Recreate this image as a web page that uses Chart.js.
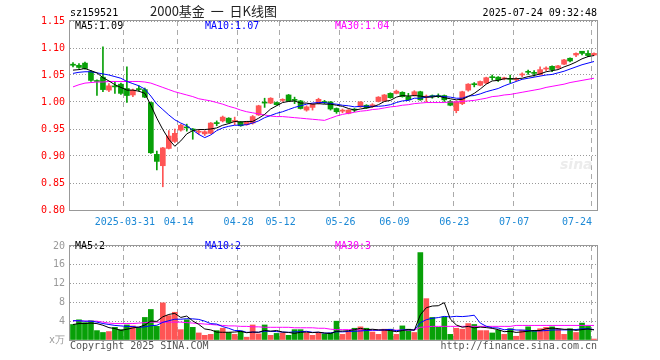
<!DOCTYPE html>
<html>
<head>
<meta charset="utf-8">
<script src="https://cdn.jsdelivr.net/npm/chart.js@4.4.1/dist/chart.umd.min.js"></script>
<style>
  body { margin: 0; background: #fff; }
  #wrap { position: relative; width: 660px; height: 360px; overflow: hidden; }
  canvas { position: absolute; left: 0; }
  .t { position: absolute; white-space: pre; font: 10px "DejaVu Sans Mono", monospace; line-height: 10px; color: #000; }
</style>
</head>
<body>
<div id="wrap">
  <canvas id="kline" width="660" height="235" style="top:0"></canvas>
  <canvas id="vol" width="660" height="125" style="top:235px"></canvas>

  <div class="t" style="left:70px;top:8px">sz159521</div>
  <div class="t" style="left:150px;top:4px;font:13px 'Noto Sans CJK SC',sans-serif;line-height:13px;color:#222">2000基金  一  日K线图</div>
  <div class="t" style="right:63px;top:8px">2025-07-24 09:32:48</div>

  <div class="t" style="left:75px;top:21px">MA5:1.09</div>
  <div class="t" style="left:205px;top:21px;color:#0000ff">MA10:1.07</div>
  <div class="t" style="left:335px;top:21px;color:#ff00ff">MA30:1.04</div>

  <div class="t" style="left:560px;top:156px;font:italic bold 14px 'DejaVu Sans',sans-serif;color:#ececec">sina</div>

  <div class="t" style="left:75px;top:241px">MA5:2</div>
  <div class="t" style="left:205px;top:241px;color:#0000ff">MA10:2</div>
  <div class="t" style="left:335px;top:241px;color:#ff00ff">MA30:3</div>

  <div class="t" style="left:70px;top:341px;color:#555">Copyright 2025 SINA.COM</div>
  <div class="t" style="right:63px;top:341px;color:#555">http://finance.sina.com.cn</div>
</div>

<script>
// trading days shown
const dates = [
  '2025-03-18','2025-03-19','2025-03-20','2025-03-21','2025-03-24','2025-03-25','2025-03-26','2025-03-27','2025-03-28','2025-03-31',
  '2025-04-01','2025-04-02','2025-04-03','2025-04-07','2025-04-08','2025-04-09','2025-04-10','2025-04-11','2025-04-14','2025-04-15',
  '2025-04-16','2025-04-17','2025-04-18','2025-04-21','2025-04-22','2025-04-23','2025-04-24','2025-04-25','2025-04-28','2025-04-29',
  '2025-04-30','2025-05-06','2025-05-07','2025-05-08','2025-05-09','2025-05-12','2025-05-13','2025-05-14','2025-05-15','2025-05-16',
  '2025-05-19','2025-05-20','2025-05-21','2025-05-22','2025-05-23','2025-05-26','2025-05-27','2025-05-28','2025-05-29','2025-05-30',
  '2025-06-03','2025-06-04','2025-06-05','2025-06-06','2025-06-09','2025-06-10','2025-06-11','2025-06-12','2025-06-13','2025-06-16',
  '2025-06-17','2025-06-18','2025-06-19','2025-06-20','2025-06-23','2025-06-24','2025-06-25','2025-06-26','2025-06-27','2025-06-30',
  '2025-07-01','2025-07-02','2025-07-03','2025-07-04','2025-07-07','2025-07-08','2025-07-09','2025-07-10','2025-07-11','2025-07-14',
  '2025-07-15','2025-07-16','2025-07-17','2025-07-18','2025-07-21','2025-07-22','2025-07-23','2025-07-24'
];

// x axis labels
const tickDates = ['2025-03-31','2025-04-14','2025-04-28','2025-05-12','2025-05-26','2025-06-09','2025-06-23','2025-07-07','2025-07-24'];
const tickText  = ['2025-03-31','04-14','04-28','05-12','05-26','06-09','06-23','07-07','07-24     '];

// prices
const openP = [
  1.070,1.068,1.072,1.056,1.039,1.046,1.022,1.029,1.033,1.025,
  1.013,1.024,1.023,0.999,0.903,0.882,0.914,0.927,0.948,0.953,
  0.950,0.944,0.941,0.942,0.961,0.965,0.970,0.964,0.963,0.958,
  0.961,0.976,0.999,0.998,0.999,1.003,1.013,1.004,1.002,0.985,
  0.990,0.998,1.000,1.000,0.988,0.983,0.979,0.986,0.991,0.994,
  0.993,1.001,1.002,1.016,1.016,1.018,1.010,1.013,1.019,1.009,
  1.011,1.011,1.012,1.001,0.984,0.997,1.022,1.033,1.031,1.035,
  1.046,1.046,1.043,1.043,1.041,1.050,1.056,1.054,1.051,1.061,
  1.066,1.063,1.070,1.081,1.087,1.094,1.090,1.087
];
const closeP = [
  1.068,1.064,1.062,1.040,1.038,1.023,1.030,1.028,1.016,1.012,
  1.022,1.023,1.009,0.906,0.890,0.915,0.937,0.942,0.957,0.952,
  0.948,0.945,0.945,0.961,0.960,0.972,0.962,0.965,0.956,0.963,
  0.973,0.993,0.998,1.007,0.995,1.004,1.002,1.003,0.988,0.991,
  0.996,1.005,0.999,0.987,0.982,0.985,0.985,0.985,1.000,0.989,
  0.994,1.009,1.013,1.008,1.020,1.010,1.004,1.019,1.004,1.010,
  1.010,1.010,1.004,0.994,1.000,1.019,1.033,1.032,1.038,1.045,
  1.045,1.041,1.044,1.042,1.042,1.051,1.055,1.053,1.060,1.062,
  1.060,1.067,1.078,1.076,1.090,1.090,1.086,1.090
];
const highP = [
  1.073,1.071,1.074,1.058,1.041,1.102,1.034,1.038,1.035,1.065,
  1.024,1.030,1.026,1.000,0.909,0.916,0.947,0.950,0.959,0.959,
  0.951,0.949,0.947,0.962,0.965,0.974,0.971,0.972,0.964,0.964,
  0.975,0.994,1.007,1.008,1.000,1.006,1.014,1.009,1.003,0.993,
  0.997,1.007,1.003,1.001,0.989,0.987,0.986,0.988,1.001,0.995,
  0.997,1.010,1.014,1.017,1.022,1.019,1.016,1.021,1.020,1.013,
  1.013,1.015,1.013,1.003,1.002,1.020,1.034,1.036,1.039,1.046,
  1.050,1.047,1.046,1.050,1.045,1.054,1.059,1.058,1.065,1.065,
  1.067,1.068,1.079,1.082,1.091,1.094,1.095,1.091
];
const lowP = [
  1.065,1.062,1.061,1.038,1.012,1.019,1.019,1.016,1.014,0.999,
  1.010,1.020,1.008,0.905,0.874,0.843,0.913,0.925,0.946,0.946,
  0.931,0.940,0.938,0.941,0.956,0.963,0.961,0.958,0.955,0.957,
  0.959,0.975,0.990,0.997,0.994,1.001,1.001,0.997,0.987,0.983,
  0.985,0.996,0.997,0.985,0.979,0.980,0.978,0.982,0.990,0.988,
  0.990,1.000,1.001,1.007,1.015,1.009,1.003,1.011,1.003,1.000,
  1.007,1.008,1.001,0.993,0.980,0.995,1.020,1.028,1.030,1.034,
  1.041,1.038,1.041,1.036,1.039,1.047,1.051,1.048,1.050,1.058,
  1.056,1.062,1.069,1.074,1.084,1.087,1.084,1.086
];

// price moving averages as drawn
const ma5 = [
  1.059,1.060,1.062,1.058,1.054,1.045,1.039,1.032,1.027,1.022,
  1.022,1.020,1.016,0.994,0.970,0.949,0.931,0.918,0.928,0.941,
  0.947,0.949,0.949,0.950,0.952,0.957,0.960,0.964,0.963,0.964,
  0.964,0.970,0.977,0.987,0.993,0.999,1.001,1.002,0.998,0.998,
  0.996,0.997,0.996,0.996,0.994,0.992,0.988,0.985,0.987,0.989,
  0.991,0.995,1.001,1.003,1.009,1.012,1.011,1.012,1.011,1.009,
  1.009,1.011,1.008,1.006,1.004,1.005,1.010,1.016,1.024,1.033,
  1.039,1.040,1.043,1.043,1.043,1.044,1.047,1.049,1.052,1.056,
  1.058,1.060,1.065,1.069,1.074,1.080,1.084,1.086
];
const ma10 = [
  1.053,1.055,1.056,1.056,1.054,1.052,1.050,1.047,1.044,1.038,
  1.034,1.030,1.024,1.011,0.996,0.986,0.976,0.967,0.961,0.956,
  0.948,0.940,0.934,0.939,0.947,0.952,0.955,0.957,0.957,0.958,
  0.961,0.965,0.971,0.975,0.979,0.982,0.986,0.990,0.993,0.996,
  0.998,0.999,0.999,0.997,0.996,0.994,0.993,0.991,0.992,0.992,
  0.992,0.992,0.993,0.995,0.999,1.002,1.003,1.007,1.007,1.009,
  1.011,1.011,1.010,1.009,1.007,1.007,1.011,1.012,1.015,1.019,
  1.022,1.025,1.030,1.034,1.038,1.042,1.044,1.046,1.048,1.050,
  1.051,1.054,1.057,1.061,1.065,1.069,1.072,1.075
];
const ma30 = [
  1.028,1.032,1.035,1.036,1.037,1.037,1.038,1.038,1.038,1.038,
  1.038,1.038,1.037,1.035,1.031,1.027,1.023,1.019,1.016,1.013,
  1.010,1.006,1.004,1.002,0.999,0.996,0.992,0.989,0.985,0.982,
  0.980,0.978,0.976,0.974,0.973,0.973,0.972,0.971,0.970,0.969,
  0.968,0.967,0.966,0.970,0.974,0.977,0.979,0.981,0.983,0.984,
  0.986,0.987,0.989,0.991,0.992,0.994,0.995,0.997,0.998,0.999,
  0.999,0.999,0.999,1.000,1.000,1.001,1.002,1.003,1.005,1.007,
  1.010,1.011,1.013,1.014,1.016,1.018,1.020,1.022,1.024,1.027,
  1.029,1.031,1.033,1.036,1.038,1.040,1.042,1.044
];

// volume (x万)
const volume = [
  3.3,4.3,3.7,4.1,2.0,1.6,1.8,2.7,2.2,3.2,
  3.0,2.7,4.8,6.5,2.9,7.9,5.2,5.9,2.2,4.3,
  2.7,1.5,1.0,1.2,2.0,2.5,1.6,1.2,1.9,0.6,
  3.2,1.3,3.2,1.0,1.4,1.5,1.0,2.2,2.2,1.5,
  1.0,1.5,1.3,1.5,4.0,1.2,1.9,2.5,2.8,2.5,
  1.7,1.2,2.3,2.3,1.2,3.0,2.3,1.6,18.6,8.8,
  4.8,2.7,4.9,1.2,2.5,2.3,3.5,3.3,2.0,2.0,
  1.5,2.1,1.2,2.4,0.8,2.1,2.8,2.0,2.4,2.7,
  2.8,2.3,1.2,2.4,1.6,3.6,2.9,0.2
];
const vma5 = [
  3.3,3.5,3.5,3.6,3.49,3.14,2.63,2.43,2.05,2.29,
  2.57,2.75,3.17,4.03,3.96,4.94,5.44,5.66,4.80,5.09,
  4.05,3.32,2.35,2.15,1.68,1.64,1.65,1.69,1.83,1.55,
  1.69,1.64,2.04,1.87,2.03,1.68,1.61,1.41,1.65,1.67,
  1.57,1.67,1.49,1.35,1.85,1.89,1.97,2.21,2.48,2.19,
  2.29,2.16,2.12,2.02,1.76,2.01,2.24,2.09,5.35,6.87,
  7.23,7.29,7.95,4.47,3.21,2.72,2.89,2.58,2.74,2.64,
  2.48,2.20,1.77,1.85,1.61,1.73,1.87,2.03,2.03,2.40,
  2.53,2.43,2.27,2.27,2.05,2.21,2.35,2.15
];
const vma10 = [
  4.1,4.1,4.0,4.0,3.8,3.5,3.3,3.1,3.0,2.89,
  2.86,2.69,2.80,3.04,3.13,3.76,4.10,4.42,4.42,4.53,
  4.50,4.38,4.01,3.48,3.39,2.85,2.49,2.02,1.99,1.62,
  1.67,1.65,1.87,1.85,1.79,1.69,1.63,1.73,1.76,1.85,
  1.63,1.64,1.45,1.50,1.76,1.73,1.82,1.85,1.92,2.02,
  2.09,2.07,2.17,2.25,1.98,2.15,2.20,2.11,3.69,4.32,
  4.62,4.77,5.02,4.91,5.04,4.98,5.09,5.27,3.61,2.93,
  2.60,2.55,2.18,2.30,2.13,2.11,2.04,1.90,1.94,2.01,
  2.13,2.15,2.15,2.15,2.23,2.37,2.39,2.21
];
const vma30 = [
  4.1,4.1,4.0,4.0,4.0,3.8,3.6,3.5,3.5,3.5,
  3.5,3.6,3.7,3.8,3.8,3.8,3.8,3.8,3.8,3.7,
  3.6,3.5,3.4,3.3,3.2,3.1,3.0,3.0,2.9,2.9,
  2.8,2.8,2.7,2.7,2.7,2.7,2.7,2.6,2.6,2.6,
  2.6,2.5,2.5,2.3,2.2,2.2,2.2,2.2,2.1,2.1,
  2.1,2.1,2.1,2.1,2.1,2.1,2.1,2.1,2.7,2.8,
  2.9,2.9,2.9,2.9,2.9,2.9,2.9,2.9,2.9,2.9,
  2.9,2.9,2.9,2.9,3.1,3.1,3.1,3.1,3.1,3.1,
  3.1,3.1,3.1,3.1,3.1,3.1,3.1,3.1
];

const UP = '#ff5555', DOWN = '#08a008';
const candleColor = dates.map((d, i) => closeP[i] >= openP[i] ? UP : DOWN);

Chart.defaults.font.family = '"DejaVu Sans Mono", monospace';
Chart.defaults.font.size = 10;

// grey frame round the plot area
const frame = {
  id: 'frame',
  afterDraw(chart) {
    const a = chart.chartArea, ctx = chart.ctx;
    ctx.save();
    ctx.strokeStyle = '#999';
    ctx.lineWidth = 1;
    ctx.strokeRect(Math.round(a.left) - 0.5, Math.round(a.top) - 0.5,
      Math.round(a.right - a.left) + 1, Math.round(a.bottom - a.top) + 1);
    ctx.restore();
  }
};

function xGridColor(ctx) {
  return tickDates.includes(dates[ctx.index]) ? '#aaa' : 'rgba(0,0,0,0)';
}

function maLine(label, data, color) {
  return { type: 'line', label: label, data: data, borderColor: color, borderWidth: 1,
    pointRadius: 0, tension: 0, order: 0 };
}

// K line
new Chart(document.getElementById('kline'), {
  type: 'bar',
  data: {
    labels: dates,
    datasets: [
      maLine('MA5', ma5, '#000000'),
      maLine('MA10', ma10, '#0000ff'),
      maLine('MA30', ma30, '#ff00ff'),
      { label: 'body', data: dates.map((d, i) => [openP[i], closeP[i]]), backgroundColor: candleColor,
        barThickness: 5, minBarLength: 1, grouped: false, order: 1 },
      { label: 'wick', data: dates.map((d, i) => [lowP[i], highP[i]]), backgroundColor: candleColor,
        barThickness: 1, grouped: false, order: 2 }
    ]
  },
  options: {
    responsive: false,
    animation: false,
    events: [],
    layout: { padding: { top: 21, right: 63, bottom: 0, left: 0 } },
    plugins: { legend: { display: false }, tooltip: { enabled: false } },
    scales: {
      x: {
        grid: { offset: true, drawTicks: false, color: xGridColor },
        border: { display: false, dash: [5, 4] },
        ticks: {
          autoSkip: false, maxRotation: 0, padding: 6, labelOffset: -2, color: '#1c89d6',
          callback: function (v, i) {
            const k = tickDates.indexOf(dates[i]);
            return k < 0 ? '' : tickText[k];
          }
        },
        afterFit: function (s) { s.height = 25; }
      },
      y: {
        min: 0.8, max: 1.15,
        grid: { drawTicks: false, color: '#999' },
        border: { display: false, dash: [1, 2] },
        ticks: { stepSize: 0.05, padding: 5, color: '#f00', callback: v => v.toFixed(2) },
        afterFit: function (s) { s.width = 70; }
      }
    }
  },
  plugins: [frame]
});

// volume
new Chart(document.getElementById('vol'), {
  type: 'bar',
  data: {
    labels: dates,
    datasets: [
      maLine('MA5', vma5, '#000000'),
      maLine('MA10', vma10, '#0000ff'),
      maLine('MA30', vma30, '#ff00ff'),
      { label: 'vol', data: volume, backgroundColor: candleColor, barThickness: 5, order: 1 }
    ]
  },
  options: {
    responsive: false,
    animation: false,
    events: [],
    layout: { padding: { top: 5, right: 63, bottom: 20, left: 0 } },
    plugins: { legend: { display: false }, tooltip: { enabled: false } },
    scales: {
      x: {
        grid: { offset: true, drawTicks: false, color: xGridColor },
        border: { display: false, dash: [5, 4] },
        ticks: { display: false },
        afterFit: function (s) { s.height = 0; }
      },
      y: {
        min: 0, max: 20,
        grid: { drawTicks: false, color: '#999' },
        border: { display: false, dash: [1, 2] },
        ticks: { stepSize: 4, padding: 5, color: '#999', callback: v => v === 0 ? 'x万' : v },
        afterFit: function (s) { s.width = 70; }
      }
    }
  },
  plugins: [frame]
});
</script>
</body>
</html>
